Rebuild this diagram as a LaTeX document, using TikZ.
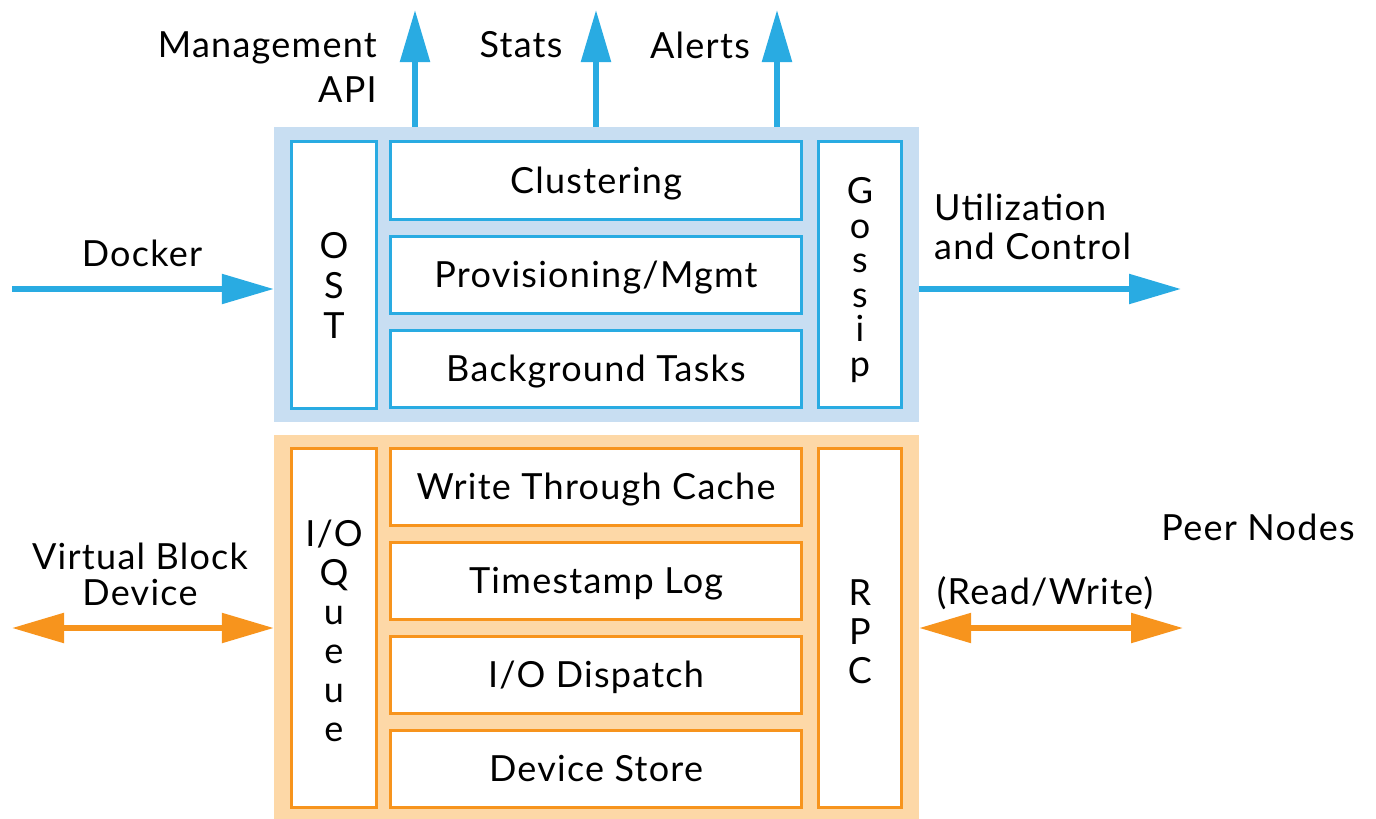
\documentclass[tikz,border=0pt]{standalone}
\usepackage{fontspec}
\setmainfont{Lato}[LetterSpace=3.5]
\usetikzlibrary{arrows.meta}
\definecolor{cblue}{HTML}{29ABE2}
\definecolor{cbluebg}{HTML}{C8DEF2}
\definecolor{corange}{HTML}{F7941D}
\definecolor{corangebg}{HTML}{FDD8A7}
\tikzset{
  txt/.style={font=\fontsize{36}{40}\selectfont, inner sep=0pt},
  bbox/.style={draw=cblue, line width=3pt, fill=white, inner sep=0pt, font=\fontsize{36}{40}\selectfont},
  obox/.style={draw=corange, line width=3pt, fill=white, inner sep=0pt, font=\fontsize{36}{40}\selectfont},
  rowtext/.style={text height=25pt, text depth=0pt},
  barrow/.style={draw=cblue, line width=5.5pt, -{Triangle[length=52pt,width=29pt]}},
  oarrow/.style={draw=corange, line width=5.5pt, {Triangle[length=52pt,width=29pt]}-{Triangle[length=52pt,width=29pt]}},
}
\begin{document}
\begin{tikzpicture}[x=1pt,y=-1pt]
\useasboundingbox (0,0) rectangle (1376,819);
% backgrounds
\node[fill=cbluebg, minimum width=645pt, minimum height=295pt, inner sep=0pt] (bluebg) at (596.5,274.5) {};
\node[fill=corangebg, minimum width=645pt, minimum height=384pt, inner sep=0pt] (orangebg) at (596.5,627) {};
% blue boxes
\node[bbox, minimum width=85pt, minimum height=267pt] (ost) at (334,275) {};
\node[txt, align=center, font=\fontsize{36}{40}\selectfont] (ostt) at (334,285) {O\\S\\T};
\node[bbox, rowtext, minimum width=411pt, minimum height=78pt] (clus) at (596,180.5) {Clustering};
\node[bbox, rowtext, minimum width=411pt, minimum height=77pt] (prov) at (596,275) {Provisioning/Mgmt};
\node[bbox, rowtext, minimum width=411pt, minimum height=77pt] (back) at (596,369) {Background Tasks};
\node[bbox, minimum width=83pt, minimum height=266pt] (gossip) at (860,274.5) {};
\node[txt, align=center, font=\fontsize{36}{34.5}\selectfont] (gossipt) at (860,280) {G\\o\\s\\s\\i\\p};
% orange boxes
\node[obox, minimum width=85pt, minimum height=359pt] (ioq) at (334,628) {};
\node[txt, align=center, font=\fontsize{36}{39}\selectfont] (ioqt) at (334,631) {I/O\\Q\\u\\e\\u\\e};
\node[obox, rowtext, minimum width=411pt, minimum height=77pt] (wtc) at (596,487) {Write Through Cache};
\node[obox, rowtext, minimum width=411pt, minimum height=77pt] (tsl) at (596,581) {Timestamp Log};
\node[obox, rowtext, minimum width=411pt, minimum height=77pt] (iod) at (596,675) {I/O Dispatch};
\node[obox, rowtext, minimum width=411pt, minimum height=77pt] (ds) at (596,769) {Device Store};
\node[obox, minimum width=83pt, minimum height=359pt] (rpc) at (860,628) {};
\node[txt, align=center, font=\fontsize{36}{39}\selectfont] (rpct) at (860,632) {R\\P\\C};
% labels
\node[txt, align=right, anchor=east, font=\fontsize{36}{45}\selectfont] (mgmt) at (377,67) {Management\\API};
\node[txt] (stats) at (521,45) {Stats};
\node[txt] (alerts) at (700,45) {Alerts};
\node[txt] (docker) at (142,253) {Docker};
\node[txt, align=left, anchor=west, font=\fontsize{36}{39}\selectfont] (util) at (934,227) {Utilization\\and Control};
\node[txt, align=center, font=\fontsize{36}{36}\selectfont] (vbd) at (140,574) {Virtual Block\\Device};
\node[txt] (peer) at (1258,527) {Peer Nodes};
\node[txt] (rw) at (1045,593) {(Read/Write)};
% coordinates
\coordinate (mgmttip) at (415,10);
\coordinate (statstip) at (596,10);
\coordinate (alertstip) at (777,10);
\coordinate (dockerstart) at (12,289);
\coordinate (utiltip) at (1181,289);
\coordinate (vbdend) at (12,628);
\coordinate (peerend) at (1183,628);
% arrows
\draw[barrow] (bluebg.north -| mgmttip) -- (mgmttip);
\draw[barrow] (bluebg.north -| statstip) -- (statstip);
\draw[barrow] (bluebg.north -| alertstip) -- (alertstip);
\draw[barrow] (dockerstart) -- (bluebg.west |- dockerstart);
\draw[barrow] (bluebg.east |- utiltip) -- (utiltip);
\draw[oarrow] (vbdend) -- (orangebg.west |- vbdend);
\draw[oarrow] (orangebg.east |- peerend) -- (peerend);
\end{tikzpicture}
\end{document}
